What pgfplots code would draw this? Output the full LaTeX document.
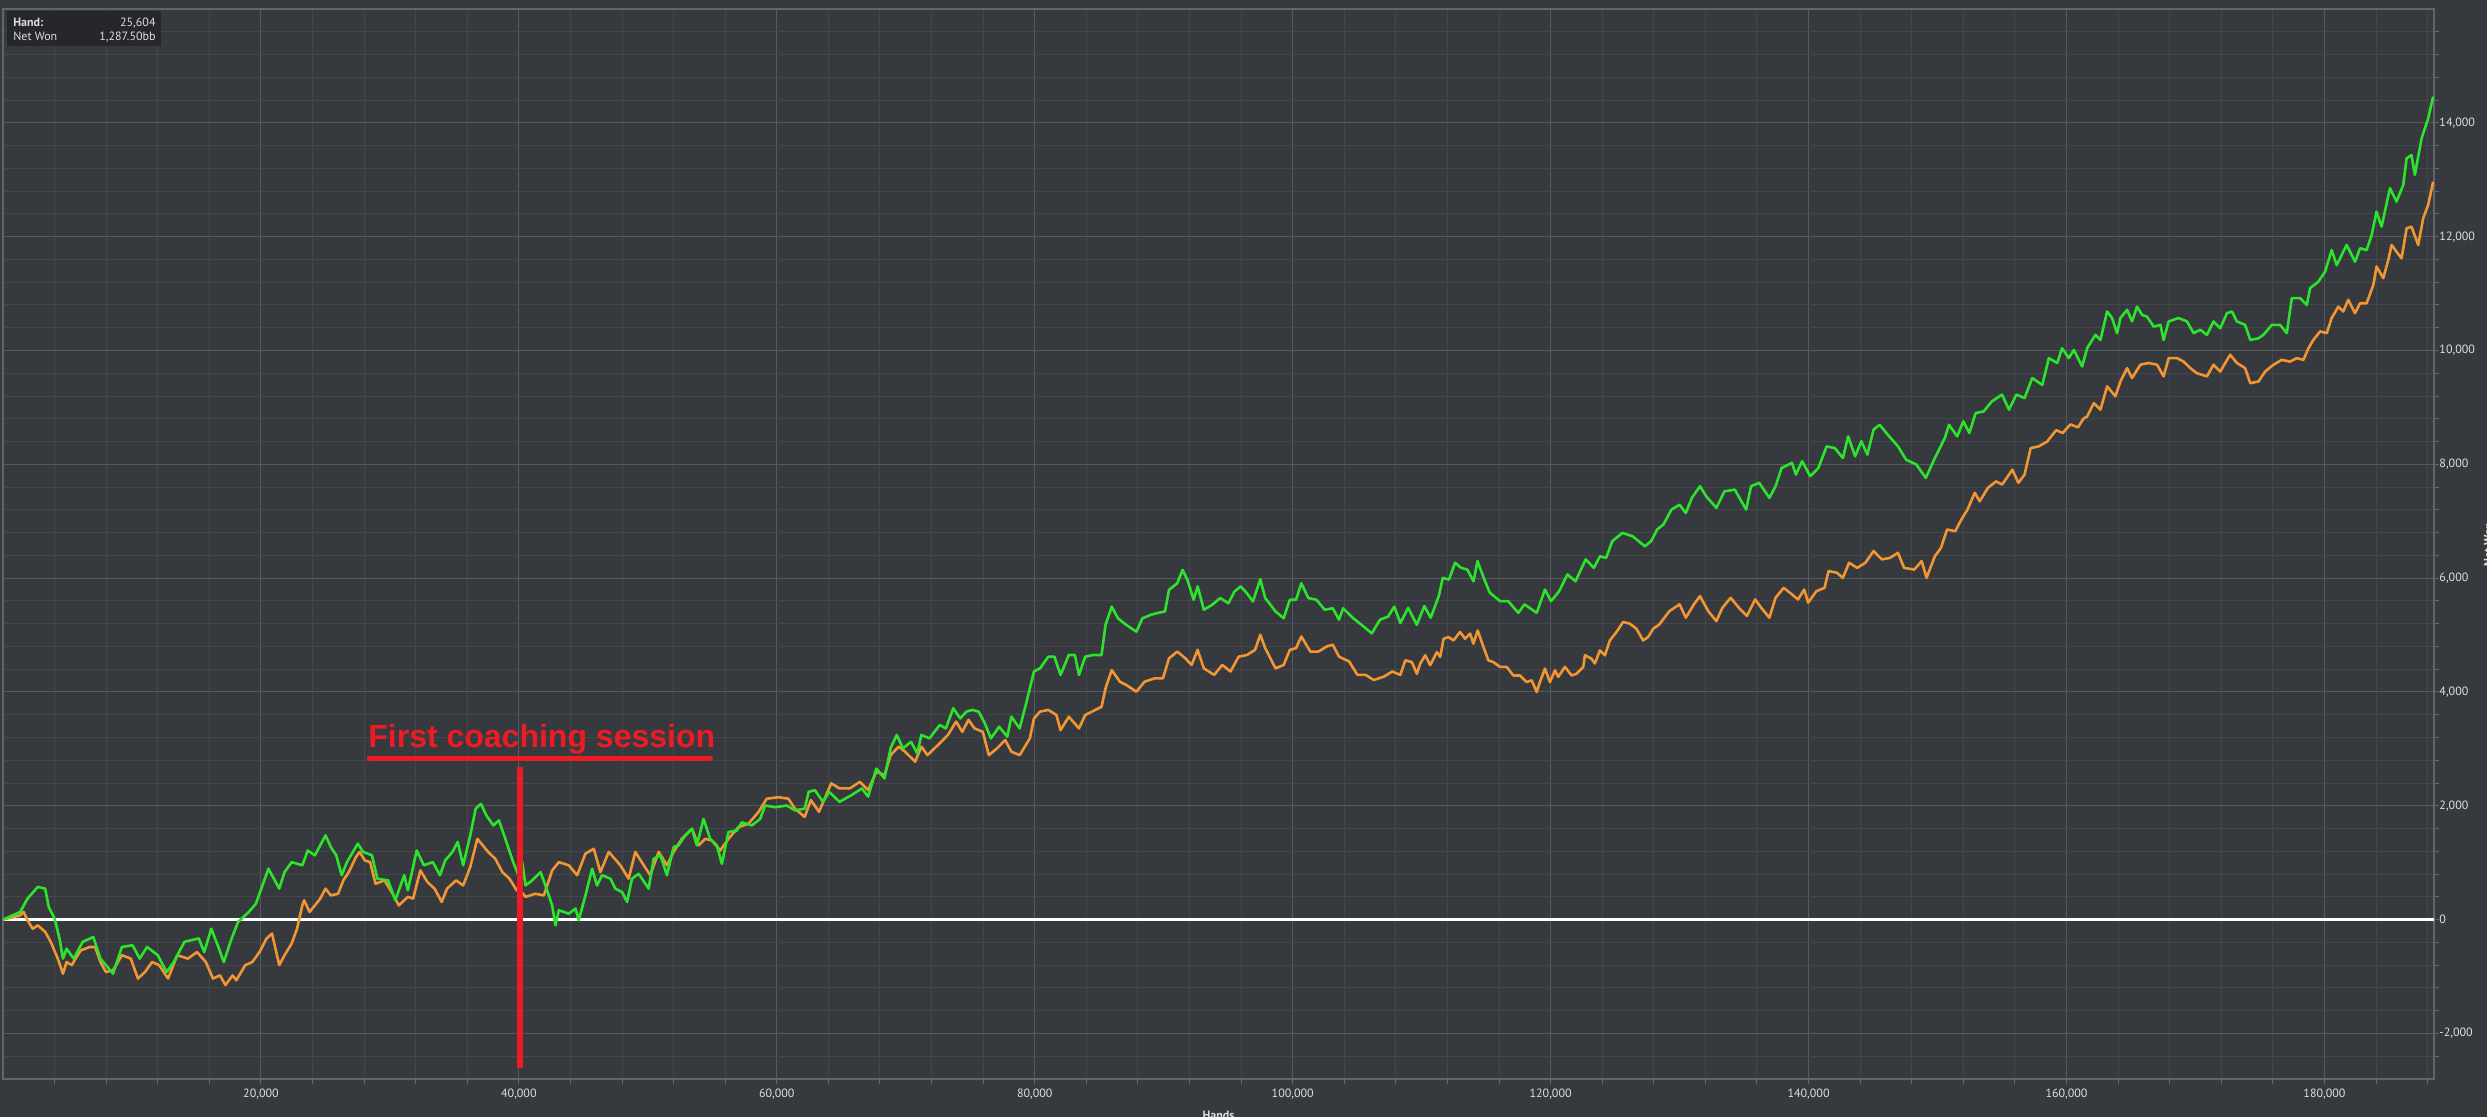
\documentclass[border=0pt]{standalone}
\usepackage{pgfplots}
\pgfplotsset{compat=1.18}
\usepackage{fontspec}
\setmainfont{PT Sans}
\newfontfamily\arialfont{Liberation Sans}
\definecolor{bg}{RGB}{54,57,61}
\definecolor{gridmin}{RGB}{67,70,74}
\definecolor{gridmaj}{RGB}{86,89,93}
\definecolor{framec}{RGB}{98,101,105}
\definecolor{tickl}{RGB}{222,222,222}
\definecolor{gline}{RGB}{45,228,45}
\definecolor{oline}{RGB}{242,150,52}
\definecolor{redann}{RGB}{237,28,36}
\definecolor{boxc}{RGB}{37,39,42}

\pgfplotstableread{
x y
0 0
1330 135
1900 370
2700 575
3270 545
3550 220
4000 20
4380 -330
4650 -685
4930 -510
5480 -685
6180 -390
7000 -305
7560 -685
8530 -950
9220 -480
10050 -450
10600 -685
11170 -480
12000 -625
12690 -920
13240 -745
14070 -390
15180 -330
15600 -570
16150 -160
16700 -480
17120 -745
17680 -360
18230 -40
19060 135
19610 280
20030 545
20580 895
21420 545
21830 835
22380 1010
23210 955
23630 1215
24180 1130
25010 1480
25420 1275
25840 1130
26260 780
26670 1010
27510 1335
27920 1190
28610 1130
29030 720
29860 690
30420 340
31110 780
31390 515
32080 1215
32630 955
33330 1010
33880 780
34290 1040
34850 1190
35260 1365
35680 955
36230 1480
36650 1950
37060 2035
37480 1830
38030 1655
38450 1745
38860 1480
39560 1010
39970 780
40260 1010
40520 600
41030 690
41680 835
42060 600
42580 250
42840 -100
43100 165
43870 105
44390 195
44640 -10
45160 425
45680 895
46060 600
46450 780
47100 720
47480 545
48000 485
48390 310
48770 720
49290 805
50060 545
50450 1070
50970 1130
51480 780
52000 1275
52380 1305
52900 1480
53420 1595
53800 1305
54320 1770
54830 1420
55350 1305
55740 980
56250 1540
56900 1565
57290 1710
58060 1655
58710 1770
59090 2005
59870 1975
60770 2005
61410 1920
62160 1950
62470 2245
62950 2275
63580 2070
64060 2245
64860 2070
65810 2190
66600 2305
67080 2160
67720 2655
68350 2480
68820 3010
69300 3245
69780 3010
70410 3125
70890 2920
71210 3245
71840 3185
72630 3420
73110 3360
73680 3715
74220 3535
74700 3655
75170 3685
75650 3655
76130 3450
76600 3185
77240 3390
77870 3215
78190 3565
78830 3360
79300 3770
79620 4065
79940 4360
80410 4415
81050 4620
81520 4620
82000 4300
82640 4650
83110 4650
83430 4300
83910 4620
84540 4650
85180 4650
85490 5180
85970 5500
86450 5295
87080 5180
87880 5060
88350 5295
88990 5355
89460 5385
90100 5415
90410 5795
91050 5910
91460 6145
91840 5970
92320 5620
92630 5855
93110 5445
93750 5530
94380 5650
95020 5560
95490 5765
95970 5855
96450 5735
96920 5590
97490 5980
97870 5650
98670 5415
99300 5295
99780 5620
100260 5620
100670 5910
101210 5650
101840 5620
102480 5445
103110 5470
103590 5270
103910 5470
104700 5295
105500 5150
106130 5030
106770 5270
107400 5325
107880 5500
108350 5210
108950 5480
109620 5180
110210 5510
110700 5305
111330 5685
111640 6005
112120 5975
112590 6270
113070 6180
113540 6150
114020 5945
114330 6300
114810 6005
115280 5745
116080 5595
116710 5595
117500 5390
117970 5540
118920 5390
119560 5800
120030 5595
120660 5770
121300 6065
121930 5945
122720 6330
123350 6180
123830 6385
124300 6355
124780 6650
125570 6795
126360 6735
127310 6560
127790 6650
128260 6855
128740 6940
129370 7205
130000 7290
130480 7145
130950 7410
131580 7615
132060 7440
132850 7235
133480 7525
134280 7555
135160 7205
135540 7615
136170 7675
136960 7410
137440 7615
137910 7935
138710 8025
139020 7820
139500 8055
140130 7790
140760 7935
141400 8315
142030 8285
142660 8110
143070 8490
143610 8140
144090 8405
144560 8170
145040 8610
145510 8695
146140 8520
146930 8315
147570 8080
148360 7995
149090 7760
149790 8110
150570 8465
150890 8695
151520 8490
152000 8755
152470 8550
152950 8900
153580 8930
154210 9105
155000 9225
155540 8960
156110 9225
156750 9165
157340 9515
158120 9395
158630 9865
159280 9780
159660 10040
160180 9865
160570 10010
161210 9720
161600 10040
162240 10275
162630 10185
163150 10685
163530 10570
163920 10305
164180 10570
164700 10715
165080 10510
165470 10770
165860 10625
166240 10595
166760 10420
167280 10450
167530 10185
167920 10510
168690 10570
169340 10510
169860 10305
170370 10365
170890 10275
171400 10510
171920 10390
172440 10655
172830 10685
173210 10510
173850 10450
174250 10185
174890 10215
175270 10275
175920 10450
176560 10450
177080 10305
177470 10920
178110 10920
178630 10800
178890 11095
179530 11210
180050 11385
180560 11765
180950 11500
181720 11855
182370 11560
182760 11795
183270 11765
183660 12030
184040 12440
184430 12175
185080 12850
185590 12615
186110 12910
186370 13375
186750 13435
187010 13085
187530 13725
188040 14075
188430 14460
}\greendata

\pgfplotstableread{
x y
0 0
1330 75
1600 135
1900 -10
2300 -160
2700 -100
3270 -215
3700 -390
4250 -685
4650 -950
4930 -745
5340 -800
5620 -685
6040 -540
6730 -480
7140 -480
7560 -745
7980 -920
8530 -890
9220 -625
9910 -685
10460 -1035
11010 -920
11560 -745
12110 -800
12800 -1035
13510 -625
14340 -685
15040 -570
15730 -745
16280 -1035
16830 -980
17250 -1150
17800 -980
18090 -1065
18780 -800
19330 -745
19890 -570
20440 -330
20860 -245
21420 -800
21830 -625
22380 -420
22800 -160
23210 250
23350 340
23770 135
24180 250
24600 370
25010 545
25420 425
25980 455
26390 690
26810 835
27370 1100
27650 1190
28060 1040
28470 1010
28890 630
29580 690
30140 485
30690 250
31390 400
31800 370
32360 865
32910 660
33460 545
34020 310
34430 545
35130 690
35680 600
36230 925
36780 1420
37200 1305
37610 1190
38170 1070
38720 835
39270 720
39830 515
40000 545
40520 400
41290 455
41940 425
42580 865
43100 1010
43870 955
44520 780
45160 1160
45810 1245
46320 835
46970 1190
47870 955
48510 720
49030 1190
49680 955
50190 780
50840 1190
51480 955
52000 1190
52640 1420
53420 1595
53930 1305
54450 1420
54960 1390
55610 1215
56250 1420
57030 1625
57800 1685
58580 1890
59220 2125
60120 2150
60900 2125
61410 1950
62160 1805
62640 2100
63270 1895
64220 2395
64860 2305
65650 2305
66440 2420
67080 2275
67720 2600
68350 2540
68820 2890
69460 3040
69940 2950
70730 2775
71210 3040
71680 2890
72480 3065
73270 3245
73900 3480
74380 3300
74860 3510
75330 3360
75970 3300
76440 2890
77080 3010
77710 3155
78190 2950
78830 2890
79300 3065
79620 3185
79940 3535
80410 3655
81050 3685
81680 3595
82000 3330
82640 3565
83430 3360
83910 3595
85180 3740
85490 4065
85970 4385
86600 4180
87080 4125
87880 4005
88510 4180
89300 4240
89940 4240
90410 4590
91050 4710
91680 4590
92160 4475
92630 4740
93110 4415
93910 4300
94540 4475
95180 4360
95810 4620
96450 4650
97080 4740
97490 5005
97870 4770
98670 4415
99300 4475
99780 4740
100260 4770
100670 4975
101370 4710
102000 4710
102640 4800
103110 4830
103590 4620
104380 4535
105020 4300
105650 4300
106290 4210
107080 4270
107720 4360
108350 4300
108730 4555
109240 4525
109630 4320
109890 4500
110280 4645
110660 4470
111180 4700
111440 4615
111700 4935
112080 4965
112470 4905
112980 5055
113370 4935
113760 5025
114010 4850
114350 5080
114660 4875
115170 4555
115560 4525
116080 4440
116590 4440
117110 4290
117620 4290
118140 4175
118530 4205
118920 4000
119170 4175
119560 4410
119950 4175
120340 4380
120590 4265
121110 4440
121630 4290
122010 4320
122530 4440
122660 4645
123170 4585
123430 4500
123820 4730
124210 4645
124590 4905
125110 5055
125620 5230
126140 5200
126660 5110
127170 4905
127560 4965
127950 5110
128420 5185
129210 5420
130000 5540
130480 5305
131110 5540
131580 5685
132220 5420
132850 5245
133320 5480
133960 5655
134590 5480
135220 5335
135860 5625
136330 5480
136960 5305
137440 5655
138070 5830
138710 5715
139180 5625
139660 5800
139970 5570
140600 5770
141240 5830
141550 6125
142190 6095
142660 6005
143140 6270
143770 6180
144400 6270
145040 6475
145670 6330
146300 6355
146930 6445
147410 6180
148200 6150
148770 6300
149150 6005
149790 6385
150260 6530
150740 6855
151370 6825
151850 7030
152320 7205
152890 7500
153270 7350
153900 7585
154540 7700
155010 7645
155800 7905
156270 7675
156750 7820
157220 8285
157850 8315
158500 8400
159200 8600
159700 8550
160300 8700
160900 8650
161300 8800
161600 8840
162120 9075
162630 8960
163150 9370
163790 9195
164180 9455
164700 9690
165080 9515
165730 9750
166370 9780
167020 9750
167530 9545
167920 9865
168570 9865
169080 9805
169600 9690
170110 9600
170890 9545
171400 9750
171920 9630
172690 9925
173210 9780
173850 9690
174250 9425
174890 9455
175400 9630
176050 9750
176690 9835
177340 9805
177850 9865
178370 9835
178760 10040
179140 10185
179660 10335
180180 10305
180560 10570
181080 10770
181460 10685
181850 10890
182370 10655
182760 10830
183270 10830
183790 11150
184040 11475
184560 11270
184950 11590
185210 11855
185590 11735
185980 11620
186370 12145
186750 12175
187270 11855
187660 12325
188040 12555
188430 12965
}\orangedata

\begin{document}
\begin{tikzpicture}
\fill[bg] (-1.5pt,-19pt) rectangle (1242pt,539.5pt);
\begin{axis}[
  at={(0pt,0pt)}, anchor=south west,
  width=1215.5pt, height=535pt, scale only axis,
  xmin=0, xmax=188500, ymin=-2800, ymax=16000,
  xtick={20000,40000,60000,80000,100000,120000,140000,160000,180000},
  xticklabels={{20,000},{40,000},{60,000},{80,000},{100,000},{120,000},{140,000},{160,000},{180,000}},
  ytick={-2000,0,2000,4000,6000,8000,10000,12000,14000},
  yticklabels={{-2,000},{0},{2,000},{4,000},{6,000},{8,000},{10,000},{12,000},{14,000}},
  minor xtick={4000,8000,...,188000},
  minor ytick={-2400,-2000,...,15600},
  grid=both,
  major grid style={gridmaj, line width=0.5pt},
  minor grid style={gridmin, line width=0.5pt},
  axis line style={framec, line width=0.6pt},
  tick style={framec, line width=0.5pt},
  tick align=outside, major tick length=2.5pt, minor tick length=2.5pt,
  xtick pos=bottom, ytick pos=right, yticklabel pos=right,
  ticklabel style={font=\fontsize{6}{7}\selectfont, text=tickl},
  xticklabel style={anchor=base, inner sep=0pt, yshift=-6.6pt},
  yticklabel style={anchor=west, inner sep=0pt},
  scaled ticks=false,
  clip=false,
  axis background/.style={fill=bg},
]
\draw[white, line width=1.2pt] (axis cs:0,0) -- (axis cs:188500,0);
\addplot[oline, line width=1.3pt, line join=round, no markers] table[x=x,y=y] {\orangedata};
\addplot[gline, line width=1.3pt, line join=round, no markers] table[x=x,y=y] {\greendata};
\draw[redann, line width=2.75pt] (axis cs:40100,-2614) -- (axis cs:40100,2681);
\draw[redann, line width=2.5pt, line cap=round] (axis cs:28400,2839) -- (axis cs:54850,2839);
\node[anchor=base west, inner sep=0pt, text=redann, font=\arialfont\bfseries\fontsize{16}{18}\selectfont] at (axis cs:28300,3033) {First coaching session};
\fill[boxc] (axis cs:310,15961) rectangle (axis cs:12248,15346);
\node[anchor=base west, inner sep=0pt, text=tickl, font=\bfseries\fontsize{6}{7}\selectfont] at (axis cs:775,15697) {Hand:};
\node[anchor=base east, inner sep=0pt, text=tickl, font=\fontsize{6}{7}\selectfont] at (axis cs:11860,15697) {25,604};
\node[anchor=base west, inner sep=0pt, text=tickl, font=\fontsize{6}{7}\selectfont] at (axis cs:775,15450) {Net Won};
\node[anchor=base east, inner sep=0pt, text=tickl, font=\fontsize{6}{7}\selectfont] at (axis cs:11860,15450) {1,287.50bb};
\node[anchor=north, inner sep=0pt, text=tickl, font=\bfseries\fontsize{6}{7}\selectfont] at (axis cs:94250,-3353) {Hands};
\node[anchor=north, rotate=90, inner sep=0pt, text=tickl, font=\bfseries\fontsize{6}{7}\selectfont] at (axis cs:192330,6586) {Net Won};
\end{axis}
\pgfresetboundingbox
\useasboundingbox (-1.5pt,-19pt) rectangle (1242pt,539.5pt);
\end{tikzpicture}
\end{document}
